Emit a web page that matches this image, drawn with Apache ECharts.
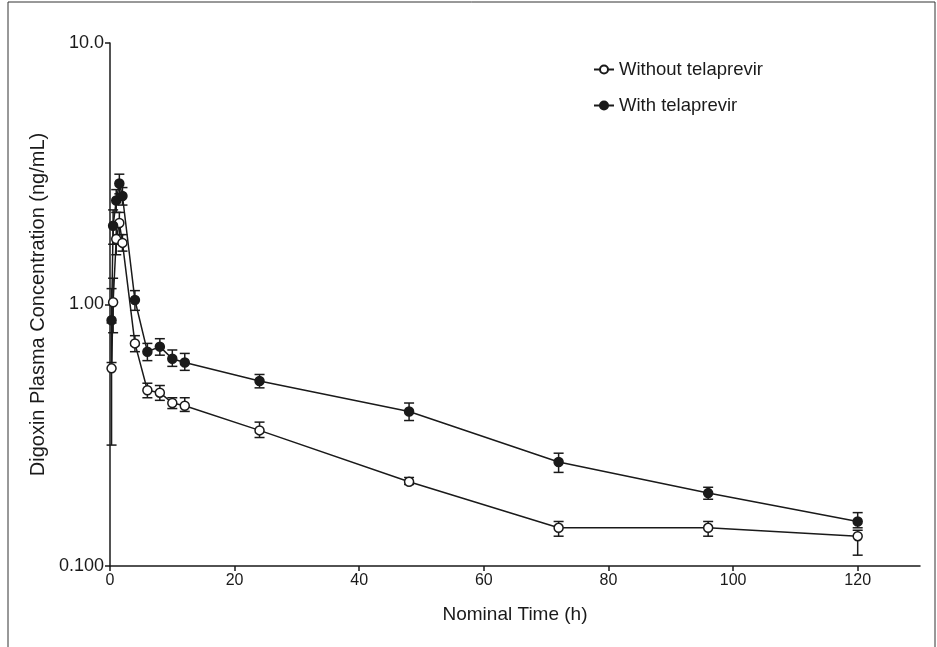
<!DOCTYPE html>
<html>
<head>
<meta charset="utf-8">
<script src="https://cdn.jsdelivr.net/npm/echarts@6/dist/echarts.min.js"></script>
<style>
  html, body { margin: 0; padding: 0; background: #fff; }
  #chart { width: 937px; height: 647px; }
</style>
</head>
<body>
<div id="chart"></div>
<script>
// Nominal sampling times (h)
const times = [0.25, 0.5, 1, 1.5, 2, 4, 6, 8, 10, 12, 24, 48, 72, 96, 120];

// Digoxin concentration (ng/mL), mean with lower/upper error bar ends
const withoutMean = [0.57, 1.02, 1.78, 2.05, 1.72, 0.71, 0.47, 0.46, 0.42, 0.41, 0.33, 0.21, 0.14, 0.14, 0.13];
const withoutLow  = [0.29, 0.78, 1.55, 1.85, 1.60, 0.66, 0.44, 0.43, 0.40, 0.39, 0.31, 0.205, 0.13, 0.13, 0.11];
const withoutHigh = [0.85, 1.26, 2.00, 2.25, 1.85, 0.76, 0.50, 0.49, 0.44, 0.44, 0.355, 0.218, 0.148, 0.148, 0.137];

const withMean = [0.87, 2.00, 2.50, 2.90, 2.60, 1.04, 0.66, 0.69, 0.62, 0.60, 0.51, 0.39, 0.25, 0.19, 0.148];
const withLow  = [0.60, 1.70, 2.25, 2.65, 2.40, 0.95, 0.61, 0.64, 0.58, 0.56, 0.48, 0.36, 0.228, 0.18, 0.14];
const withHigh = [1.15, 2.30, 2.75, 3.15, 2.80, 1.13, 0.71, 0.74, 0.67, 0.65, 0.54, 0.42, 0.27, 0.20, 0.16];

const xTicks = [0, 20, 40, 60, 80, 100, 120];
const yLabels = { 10: '10.0', 1: '1.00', 0.1: '0.100' };

const FONT = '"Liberation Sans", Arial, sans-serif';
const INK = '#1a1a1a';

function pairs(ys) { return times.map((t, i) => [t, ys[i]]); }
function bars(lo, hi) { return times.map((t, i) => [t, lo[i], hi[i]]); }

// vertical error bar with caps at both ends
function errorBar(params, api) {
  const t = api.value(0);
  const lo = api.coord([t, api.value(1)]);
  const hi = api.coord([t, api.value(2)]);
  const cap = 5;
  const style = { stroke: INK, lineWidth: 1.5, fill: null };
  return {
    type: 'group',
    children: [
      { type: 'line', shape: { x1: lo[0], y1: lo[1], x2: hi[0], y2: hi[1] }, style },
      { type: 'line', shape: { x1: lo[0] - cap, y1: lo[1], x2: lo[0] + cap, y2: lo[1] }, style },
      { type: 'line', shape: { x1: hi[0] - cap, y1: hi[1], x2: hi[0] + cap, y2: hi[1] }, style }
    ]
  };
}

const chart = echarts.init(document.getElementById('chart'), null, { renderer: 'canvas' });

chart.setOption({
  animation: false,
  backgroundColor: '#fff',
  graphic: [{
    type: 'rect',
    shape: { x: 8, y: 2, width: 927, height: 660 },
    style: { fill: null, stroke: '#333', lineWidth: 1 },
    silent: true, z: -10
  }],
  grid: { left: 110, top: 43, right: 17, bottom: 81, containLabel: false },
  legend: {
    orient: 'vertical',
    left: 588, top: 55,
    itemWidth: 20, itemHeight: 10, itemGap: 17,
    textStyle: { fontFamily: FONT, fontSize: 18.5, color: INK },
    data: ['Without telaprevir', 'With telaprevir']
  },
  xAxis: {
    type: 'value',
    min: 0, max: 130,
    name: 'Nominal Time (h)',
    nameLocation: 'middle', nameGap: 39,
    nameTextStyle: { fontFamily: FONT, fontSize: 19, color: INK },
    axisLine: { show: true, onZero: false, lineStyle: { color: INK, width: 1.5 } },
    axisTick: { show: true, length: 5, lineStyle: { color: INK, width: 1.5 }, customValues: xTicks },
    axisLabel: { fontFamily: FONT, fontSize: 16, color: INK, margin: 7, customValues: xTicks },
    splitLine: { show: false }
  },
  yAxis: {
    type: 'log', logBase: 10,
    min: 0.1, max: 10,
    name: 'Digoxin Plasma Concentration (ng/mL)',
    nameLocation: 'middle', nameGap: 61,
    nameTextStyle: { fontFamily: FONT, fontSize: 20, color: INK },
    axisLine: { show: true, lineStyle: { color: INK, width: 1.5 } },
    axisTick: { show: true, length: 5, lineStyle: { color: INK, width: 1.5 } },
    axisLabel: {
      fontFamily: FONT, fontSize: 18, color: INK, margin: 6,
      formatter: v => yLabels[Math.round(v * 1000) / 1000] || ''
    },
    splitLine: { show: false },
    minorTick: { show: false }
  },
  series: [
    {
      type: 'custom', name: 'Without telaprevir err', renderItem: errorBar,
      data: bars(withoutLow, withoutHigh), encode: { x: 0, y: [1, 2] }, z: 2, silent: true
    },
    {
      type: 'custom', name: 'With telaprevir err', renderItem: errorBar,
      data: bars(withLow, withHigh), encode: { x: 0, y: [1, 2] }, z: 2, silent: true
    },
    {
      type: 'line', name: 'Without telaprevir', data: pairs(withoutMean),
      symbol: 'circle', symbolSize: 9, showAllSymbol: true,
      lineStyle: { color: INK, width: 1.5 },
      itemStyle: { color: '#fff', borderColor: INK, borderWidth: 1.5 },
      z: 3
    },
    {
      type: 'line', name: 'With telaprevir', data: pairs(withMean),
      symbol: 'circle', symbolSize: 9, showAllSymbol: true,
      lineStyle: { color: INK, width: 1.5 },
      itemStyle: { color: INK, borderColor: INK, borderWidth: 1.5 },
      z: 3
    }
  ]
});
</script>
</body>
</html>
